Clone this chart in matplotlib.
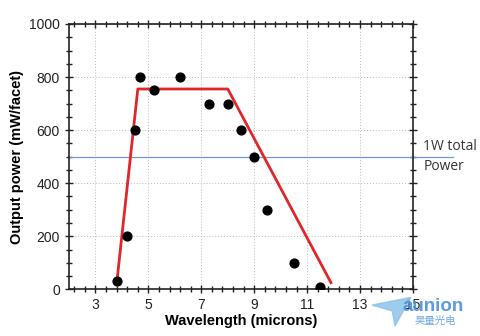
import numpy as np
import matplotlib.pyplot as plt
from matplotlib.ticker import FixedLocator, MultipleLocator
from matplotlib.patches import Polygon

plt.rcParams['font.family'] = ['Liberation Sans', 'DejaVu Sans']

# measured points
wavelength = [3.8, 4.2, 4.5, 4.7, 5.2, 6.2, 7.3, 8.0, 8.5, 9.0, 9.5, 10.5, 11.5]
power = [30, 200, 600, 800, 750, 800, 700, 700, 600, 500, 300, 100, 10]

# red envelope
fit_x = [3.8, 4.6, 8.0, 11.9]
fit_y = [20, 755, 755, 25]

total_level = 500

fig = plt.figure(figsize=(4.8, 3.36), dpi=100)
ax = fig.add_axes([0.1438, 0.139, 0.7166, 0.7896])

ax.set_xlim(2, 15)
ax.set_ylim(0, 1000)
ax.set_xticks([3, 5, 7, 9, 11, 13, 15])
ax.set_yticks([0, 200, 400, 600, 800, 1000])
ax.xaxis.set_minor_locator(FixedLocator(np.arange(2.2, 15, 0.4)))
ax.yaxis.set_minor_locator(MultipleLocator(50))
ax.tick_params(which='both', direction='inout', top=True, right=True,
               colors='#222222', labelsize=10, width=1)
ax.tick_params(which='major', length=6)
ax.tick_params(which='minor', length=4)
for s in ax.spines.values():
    s.set_color('#222222')
    s.set_linewidth(1.2)

ax.grid(True, which='major', linestyle=(0, (1, 2)), color='#bbbbbb', linewidth=0.7)

ax.plot(fit_x, fit_y, color='#e0262a', linewidth=2, zorder=3)
ax.scatter(wavelength, power, s=40, color='black', zorder=4)

ax.plot([0, 1.116], [total_level, total_level], color='#6f9ad6', linewidth=0.9,
        transform=ax.get_yaxis_transform(), clip_on=False, zorder=2)
ax.text(1.03, total_level, '1W total\nPower', transform=ax.get_yaxis_transform(),
        ha='left', va='center', fontsize=10, color='#333333',
        family=['Open Sans', 'DejaVu Sans'], linespacing=1.45)

ax.set_xlabel('Wavelength (microns)', fontsize=10.5, fontweight='bold', labelpad=1)
ax.set_ylabel('Output power (mW/facet)', fontsize=10.5, fontweight='bold', labelpad=4)

# watermark
fig.patches.append(Polygon([[0.775, 0.092], [0.856, 0.115], [0.823, 0.03], [0.817, 0.075]],
                           closed=True, transform=fig.transFigure,
                           color='#8cc4ea', alpha=0.85, zorder=10))
fig.text(0.838, 0.088, 'aunion', fontsize=13.5, fontweight='bold', color='#4a90d9',
         alpha=0.9, ha='left', va='center', zorder=11)
fig.text(0.906, 0.045, '昊量光电', fontsize=7.5, color='#6fa8e0',
         family=['Noto Sans CJK SC', 'DejaVu Sans'], ha='center', va='center', zorder=11)

fig.savefig('out.png', dpi=100)
